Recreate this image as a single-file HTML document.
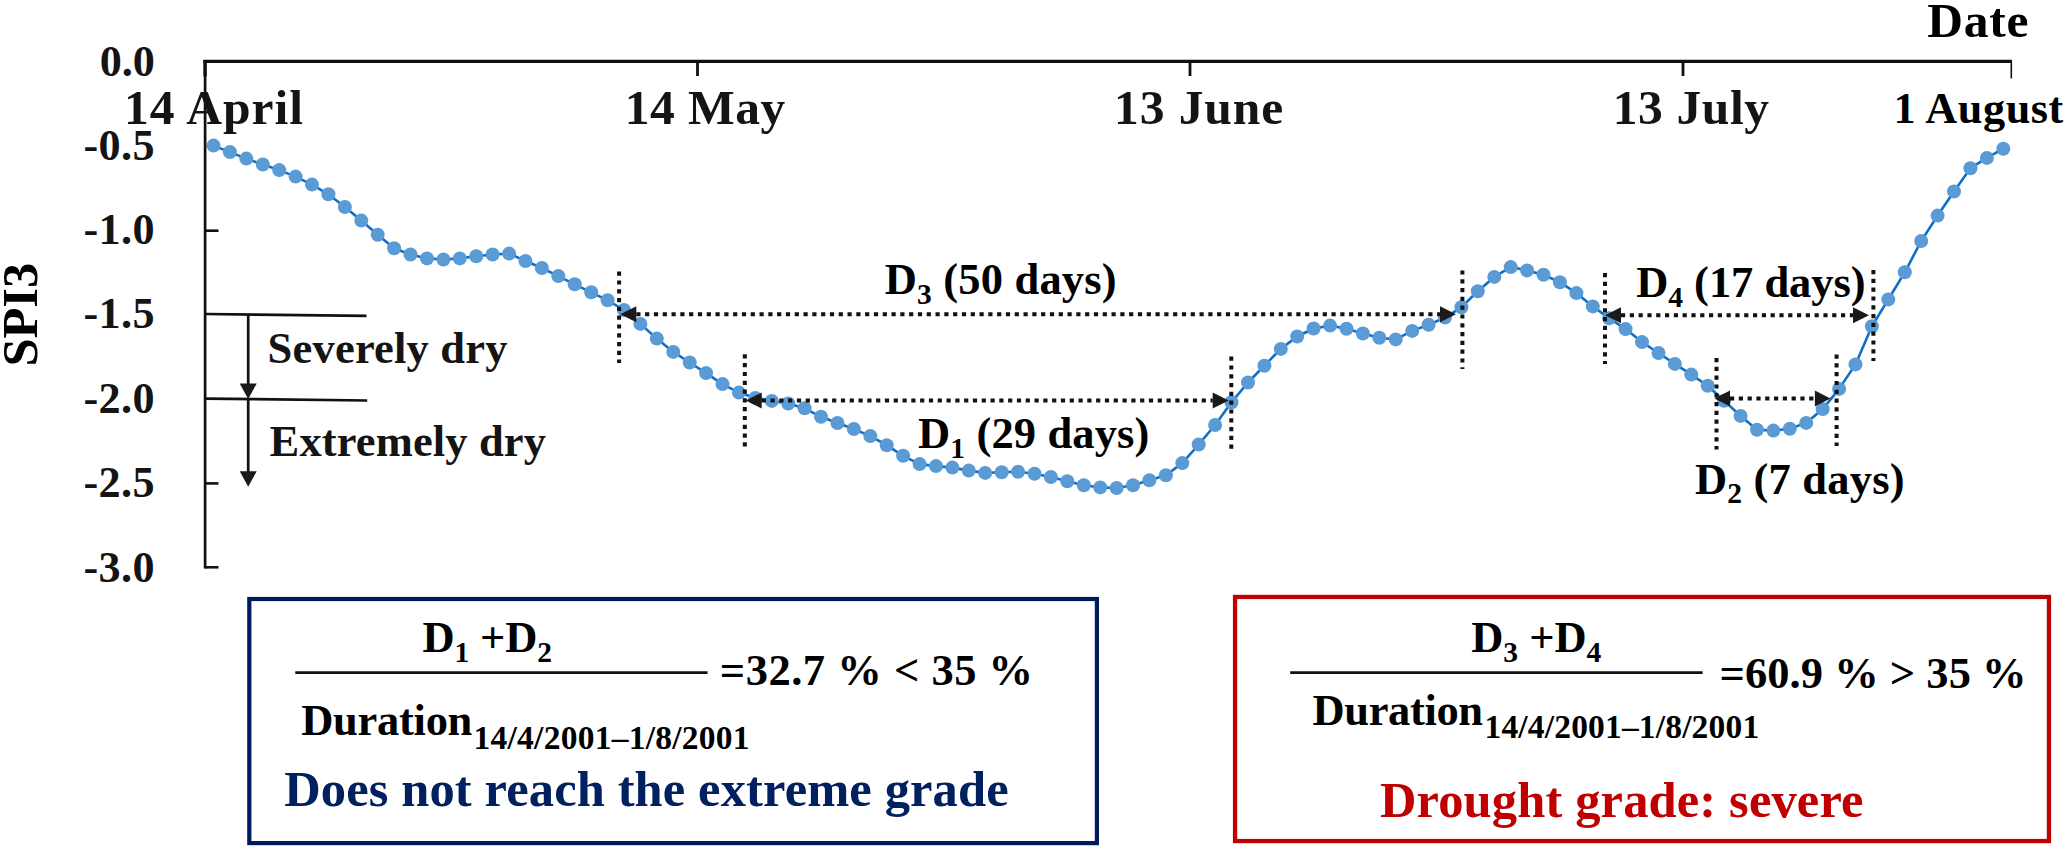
<!DOCTYPE html>
<html><head><meta charset="utf-8"><title>SPI3 drought duration</title>
<style>html,body{margin:0;padding:0;background:#fff;width:2067px;height:847px;overflow:hidden}</style>
</head><body>
<svg width="2067" height="847" viewBox="0 0 2067 847" style="position:absolute;left:0;top:0">
<style>
text{font-family:"Liberation Serif","Times New Roman",serif;font-weight:bold;white-space:pre}
.dot{stroke:#111;stroke-width:4;stroke-dasharray:4.2 4.6;fill:none}
.ax{stroke:#111;fill:none}
</style>
<rect width="2067" height="847" fill="#fff"/>
<polyline points="213.5,145.6 229.9,152.1 246.3,158.6 262.8,164.5 279.2,170.1 295.6,176.6 312.0,184.6 328.4,194.3 344.9,207.0 361.3,220.6 377.7,234.7 394.1,248.3 410.5,254.5 427.0,258.4 443.4,259.5 459.8,258.4 476.2,256.3 492.6,254.5 509.1,253.6 525.5,261.0 541.9,268.0 558.3,276.1 574.7,284.3 591.2,292.3 607.6,300.3 624.0,310.0 640.4,323.9 656.8,338.6 673.3,351.9 689.7,362.5 706.1,373.1 722.5,384.1 738.9,392.6 755.4,397.9 771.8,400.9 788.2,403.5 804.6,408.3 821.0,416.8 837.5,423.0 853.9,429.0 870.3,436.1 886.7,445.2 903.1,455.8 919.6,464.1 936.0,466.1 952.4,467.6 968.8,470.6 985.2,472.9 1001.7,472.3 1018.1,471.7 1034.5,473.8 1050.9,477.0 1067.3,481.2 1083.8,485.3 1100.2,487.4 1116.6,488.0 1133.0,485.3 1149.4,480.3 1165.9,475.3 1182.3,463.1 1198.7,444.5 1215.1,425.0 1231.5,402.3 1248.0,382.5 1264.4,365.7 1280.8,348.9 1297.2,336.5 1313.6,328.5 1330.1,325.6 1346.5,328.8 1362.9,333.5 1379.3,337.7 1395.7,339.4 1412.2,330.9 1428.6,324.7 1445.0,317.6 1461.4,307.3 1477.8,291.3 1494.3,276.9 1510.7,267.1 1527.1,270.4 1543.5,274.8 1559.9,282.2 1576.4,293.1 1592.8,306.4 1609.2,318.2 1625.6,329.1 1642.0,342.1 1658.5,353.0 1674.9,363.9 1691.3,374.6 1707.7,385.8 1724.1,400.8 1740.6,415.9 1757.0,429.7 1773.4,430.6 1789.8,428.8 1806.2,422.9 1822.7,409.1 1839.1,388.9 1855.5,364.4 1871.9,326.3 1888.3,299.4 1904.8,272.3 1921.2,241.0 1937.6,215.6 1954.0,191.5 1970.4,168.2 1986.9,157.9 2003.3,148.7" fill="none" stroke="#0f6fc6" stroke-width="2.6" stroke-linejoin="round"/>
<g fill="#5b9bd5"><circle cx="213.5" cy="145.6" r="7"/><circle cx="229.9" cy="152.1" r="7"/><circle cx="246.3" cy="158.6" r="7"/><circle cx="262.8" cy="164.5" r="7"/><circle cx="279.2" cy="170.1" r="7"/><circle cx="295.6" cy="176.6" r="7"/><circle cx="312.0" cy="184.6" r="7"/><circle cx="328.4" cy="194.3" r="7"/><circle cx="344.9" cy="207.0" r="7"/><circle cx="361.3" cy="220.6" r="7"/><circle cx="377.7" cy="234.7" r="7"/><circle cx="394.1" cy="248.3" r="7"/><circle cx="410.5" cy="254.5" r="7"/><circle cx="427.0" cy="258.4" r="7"/><circle cx="443.4" cy="259.5" r="7"/><circle cx="459.8" cy="258.4" r="7"/><circle cx="476.2" cy="256.3" r="7"/><circle cx="492.6" cy="254.5" r="7"/><circle cx="509.1" cy="253.6" r="7"/><circle cx="525.5" cy="261.0" r="7"/><circle cx="541.9" cy="268.0" r="7"/><circle cx="558.3" cy="276.1" r="7"/><circle cx="574.7" cy="284.3" r="7"/><circle cx="591.2" cy="292.3" r="7"/><circle cx="607.6" cy="300.3" r="7"/><circle cx="624.0" cy="310.0" r="7"/><circle cx="640.4" cy="323.9" r="7"/><circle cx="656.8" cy="338.6" r="7"/><circle cx="673.3" cy="351.9" r="7"/><circle cx="689.7" cy="362.5" r="7"/><circle cx="706.1" cy="373.1" r="7"/><circle cx="722.5" cy="384.1" r="7"/><circle cx="738.9" cy="392.6" r="7"/><circle cx="755.4" cy="397.9" r="7"/><circle cx="771.8" cy="400.9" r="7"/><circle cx="788.2" cy="403.5" r="7"/><circle cx="804.6" cy="408.3" r="7"/><circle cx="821.0" cy="416.8" r="7"/><circle cx="837.5" cy="423.0" r="7"/><circle cx="853.9" cy="429.0" r="7"/><circle cx="870.3" cy="436.1" r="7"/><circle cx="886.7" cy="445.2" r="7"/><circle cx="903.1" cy="455.8" r="7"/><circle cx="919.6" cy="464.1" r="7"/><circle cx="936.0" cy="466.1" r="7"/><circle cx="952.4" cy="467.6" r="7"/><circle cx="968.8" cy="470.6" r="7"/><circle cx="985.2" cy="472.9" r="7"/><circle cx="1001.7" cy="472.3" r="7"/><circle cx="1018.1" cy="471.7" r="7"/><circle cx="1034.5" cy="473.8" r="7"/><circle cx="1050.9" cy="477.0" r="7"/><circle cx="1067.3" cy="481.2" r="7"/><circle cx="1083.8" cy="485.3" r="7"/><circle cx="1100.2" cy="487.4" r="7"/><circle cx="1116.6" cy="488.0" r="7"/><circle cx="1133.0" cy="485.3" r="7"/><circle cx="1149.4" cy="480.3" r="7"/><circle cx="1165.9" cy="475.3" r="7"/><circle cx="1182.3" cy="463.1" r="7"/><circle cx="1198.7" cy="444.5" r="7"/><circle cx="1215.1" cy="425.0" r="7"/><circle cx="1231.5" cy="402.3" r="7"/><circle cx="1248.0" cy="382.5" r="7"/><circle cx="1264.4" cy="365.7" r="7"/><circle cx="1280.8" cy="348.9" r="7"/><circle cx="1297.2" cy="336.5" r="7"/><circle cx="1313.6" cy="328.5" r="7"/><circle cx="1330.1" cy="325.6" r="7"/><circle cx="1346.5" cy="328.8" r="7"/><circle cx="1362.9" cy="333.5" r="7"/><circle cx="1379.3" cy="337.7" r="7"/><circle cx="1395.7" cy="339.4" r="7"/><circle cx="1412.2" cy="330.9" r="7"/><circle cx="1428.6" cy="324.7" r="7"/><circle cx="1445.0" cy="317.6" r="7"/><circle cx="1461.4" cy="307.3" r="7"/><circle cx="1477.8" cy="291.3" r="7"/><circle cx="1494.3" cy="276.9" r="7"/><circle cx="1510.7" cy="267.1" r="7"/><circle cx="1527.1" cy="270.4" r="7"/><circle cx="1543.5" cy="274.8" r="7"/><circle cx="1559.9" cy="282.2" r="7"/><circle cx="1576.4" cy="293.1" r="7"/><circle cx="1592.8" cy="306.4" r="7"/><circle cx="1609.2" cy="318.2" r="7"/><circle cx="1625.6" cy="329.1" r="7"/><circle cx="1642.0" cy="342.1" r="7"/><circle cx="1658.5" cy="353.0" r="7"/><circle cx="1674.9" cy="363.9" r="7"/><circle cx="1691.3" cy="374.6" r="7"/><circle cx="1707.7" cy="385.8" r="7"/><circle cx="1724.1" cy="400.8" r="7"/><circle cx="1740.6" cy="415.9" r="7"/><circle cx="1757.0" cy="429.7" r="7"/><circle cx="1773.4" cy="430.6" r="7"/><circle cx="1789.8" cy="428.8" r="7"/><circle cx="1806.2" cy="422.9" r="7"/><circle cx="1822.7" cy="409.1" r="7"/><circle cx="1839.1" cy="388.9" r="7"/><circle cx="1855.5" cy="364.4" r="7"/><circle cx="1871.9" cy="326.3" r="7"/><circle cx="1888.3" cy="299.4" r="7"/><circle cx="1904.8" cy="272.3" r="7"/><circle cx="1921.2" cy="241.0" r="7"/><circle cx="1937.6" cy="215.6" r="7"/><circle cx="1954.0" cy="191.5" r="7"/><circle cx="1970.4" cy="168.2" r="7"/><circle cx="1986.9" cy="157.9" r="7"/><circle cx="2003.3" cy="148.7" r="7"/></g>
<line x1="203.4" y1="61.3" x2="2012" y2="61.3" class="ax" stroke-width="3.3"/>
<line x1="205.1" y1="60" x2="205.1" y2="568.5" class="ax" stroke-width="2.7"/>
<line x1="205.05" y1="60" x2="205.05" y2="76.4" class="ax" stroke-width="3.3"/>
<line x1="697.5" y1="61" x2="697.5" y2="76" class="ax" stroke-width="2.8"/>
<line x1="1190" y1="61" x2="1190" y2="76" class="ax" stroke-width="2.8"/>
<line x1="1683" y1="61" x2="1683" y2="76" class="ax" stroke-width="2.8"/>
<line x1="2011.3" y1="61" x2="2011.3" y2="78.5" class="ax" stroke-width="1.6"/>
<g class="ax" stroke-width="2.6">
<line x1="205" y1="230.7" x2="218.5" y2="230.7"/>
<line x1="205" y1="483.4" x2="218.5" y2="483.4"/>
<line x1="205" y1="567.3" x2="218.5" y2="567.3"/>
</g>
<g class="ax" stroke-width="2.7">
<line x1="205" y1="314" x2="366.5" y2="315.9"/>
<line x1="205" y1="398.6" x2="367.2" y2="400.5"/>
<line x1="248.2" y1="315" x2="248.2" y2="386"/>
<line x1="248.2" y1="400" x2="248.2" y2="473"/>
</g>
<polygon points="248.2,399 239.7,383.5 256.7,383.5" fill="#1a1a1a"/>
<polygon points="248.2,486.8 239.7,471.3 256.7,471.3" fill="#1a1a1a"/>
<line x1="619.1" y1="271.6" x2="619.1" y2="363" class="dot"/><line x1="744.8" y1="354.3" x2="744.8" y2="447" class="dot"/><line x1="1231.3" y1="356.6" x2="1231.3" y2="449" class="dot"/><line x1="1462.4" y1="270.4" x2="1462.4" y2="369" class="dot"/>
<line x1="1605" y1="273" x2="1605" y2="364" class="dot"/><line x1="1716.5" y1="358" x2="1716.5" y2="449.5" class="dot"/><line x1="1836.6" y1="354.5" x2="1836.6" y2="446" class="dot"/><line x1="1873.4" y1="270" x2="1873.4" y2="361" class="dot"/>
<line x1="636.3" y1="314.3" x2="1440" y2="314.3" class="dot"/><polygon points="620.3,314.3 636.3,306.3 636.3,322.3" fill="#1a1a1a"/><polygon points="1456,314.3 1440,306.3 1440,322.3" fill="#1a1a1a"/>
<line x1="761.7" y1="400.5" x2="1212.7" y2="400.5" class="dot"/><polygon points="745.7,400.5 761.7,392.5 761.7,408.5" fill="#1a1a1a"/><polygon points="1228.7,400.5 1212.7,392.5 1212.7,408.5" fill="#1a1a1a"/>
<line x1="1621" y1="315.2" x2="1853" y2="315.2" class="dot"/><polygon points="1605,315.2 1621,307.2 1621,323.2" fill="#1a1a1a"/><polygon points="1869,315.2 1853,307.2 1853,323.2" fill="#1a1a1a"/>
<line x1="1730.0" y1="398.5" x2="1814.9" y2="398.5" class="dot"/><polygon points="1714.5,398.5 1730.0,390.5 1730.0,406.5" fill="#1a1a1a"/><polygon points="1830.4,398.5 1814.9,390.5 1814.9,406.5" fill="#1a1a1a"/>
<text id="spi" transform="translate(37,314.70) rotate(-90)" font-size="50.5" text-anchor="middle" fill="#000" letter-spacing="0.000">SPI3</text>
<text id="y00" x="99.70" y="75.6" font-size="44.2" fill="#141414" letter-spacing="-0.050">0.0</text>
<text id="y05" x="83.50" y="159.6" font-size="44.2" fill="#141414" letter-spacing="0.367">-0.5</text>
<text id="y10" x="83.50" y="244.3" font-size="44.2" fill="#141414" letter-spacing="0.367">-1.0</text>
<text id="y15" x="83.50" y="328.4" font-size="44.2" fill="#141414" letter-spacing="0.367">-1.5</text>
<text id="y20" x="83.50" y="413" font-size="44.2" fill="#141414" letter-spacing="0.367">-2.0</text>
<text id="y25" x="83.50" y="497.2" font-size="44.2" fill="#141414" letter-spacing="0.367">-2.5</text>
<text id="y30" x="83.50" y="582.2" font-size="44.2" fill="#141414" letter-spacing="0.367">-3.0</text>
<text id="xa" x="124.00" y="123.8" font-size="49.5" fill="#141414" letter-spacing="1.029">14 April</text>
<text id="xb" x="624.70" y="123.8" font-size="49.5" fill="#141414" letter-spacing="0.480">14 May</text>
<text id="xc" x="1114.10" y="123.8" font-size="49.5" fill="#141414" letter-spacing="0.900">13 June</text>
<text id="xd" x="1612.70" y="123.8" font-size="49.5" fill="#141414" letter-spacing="0.617">13 July</text>
<text id="xe" x="1893.50" y="123.4" font-size="44.2" fill="#000" letter-spacing="0.571">1 August</text>
<text id="date" x="1927.20" y="37.3" font-size="49.5" fill="#000" letter-spacing="0.767">Date</text>
<text id="sev" x="267.60" y="363.1" font-size="44.5" fill="#141414" letter-spacing="0.200">Severely dry</text>
<text id="ext" x="269.60" y="455.7" font-size="44.5" fill="#141414" letter-spacing="0.133">Extremely dry</text>
<text id="d3" x="884.80" y="294.2" font-size="44.5" fill="#000" letter-spacing="0.173">D<tspan font-size="29.5" dy="9.7">3</tspan><tspan dy="-9.7"> (50 days)</tspan></text>
<text id="d1" x="918.00" y="447.8" font-size="44.5" fill="#000" letter-spacing="0.136">D<tspan font-size="29.5" dy="9.7">1</tspan><tspan dy="-9.7"> (29 days)</tspan></text>
<text id="d4" x="1636.20" y="297" font-size="44.5" fill="#000" letter-spacing="-0.036">D<tspan font-size="29.5" dy="9.7">4</tspan><tspan dy="-9.7"> (17 days)</tspan></text>
<text id="d2" x="1695.00" y="493.6" font-size="44.5" fill="#000" letter-spacing="0.190">D<tspan font-size="29.5" dy="9.7">2</tspan><tspan dy="-9.7"> (7 days)</tspan></text>
<text id="f1n" x="422.60" y="651.8" font-size="44.5" fill="#000" letter-spacing="-0.200">D<tspan font-size="29.5" dy="9.7">1</tspan><tspan dy="-9.7"> +D</tspan><tspan font-size="29.5" dy="9.7">2</tspan></text>
<text id="f1e" x="719.80" y="684.5" font-size="44.5" fill="#000" letter-spacing="0.515">=32.7 % &lt; 35 %</text>
<text id="f1d" x="301.20" y="735.4" font-size="44.5" fill="#000" letter-spacing="-0.271">Duration</text>
<text id="f1s" x="473.50" y="748.5" font-size="33.5" fill="#000" letter-spacing="0.253">14/4/2001–1/8/2001</text>
<text id="f2n" x="1471.20" y="651.8" font-size="44.5" fill="#000" letter-spacing="-0.020">D<tspan font-size="29.5" dy="9.7">3</tspan><tspan dy="-9.7"> +D</tspan><tspan font-size="29.5" dy="9.7">4</tspan></text>
<text id="f2e" x="1719.60" y="687.5" font-size="44.5" fill="#000" letter-spacing="0.031">=60.9 % &gt; 35 %</text>
<text id="f2d" x="1312.60" y="725" font-size="44.5" fill="#000" letter-spacing="-0.371">Duration</text>
<text id="f2s" x="1484.50" y="737.6" font-size="33.5" fill="#000" letter-spacing="0.171">14/4/2001–1/8/2001</text>
<text id="c1" x="284.20" y="806.4" font-size="50.5" fill="#002060" letter-spacing="0.132">Does not reach the extreme grade</text>
<text id="c2" x="1379.90" y="817.3" font-size="50.5" fill="#c00000" letter-spacing="0.150">Drought grade: severe</text>
<rect x="249.3" y="599" width="847.6" height="244.1" fill="none" stroke="#001a5e" stroke-width="4.2"/>
<rect x="1235.05" y="596.95" width="813.9" height="244.1" fill="none" stroke="#c00000" stroke-width="4.3"/>
<line x1="295.3" y1="672.7" x2="707.6" y2="672.7" stroke="#111" stroke-width="2.7"/>
<line x1="1290.2" y1="672.7" x2="1702.6" y2="672.7" stroke="#111" stroke-width="2.7"/>
</svg>
</body></html>
